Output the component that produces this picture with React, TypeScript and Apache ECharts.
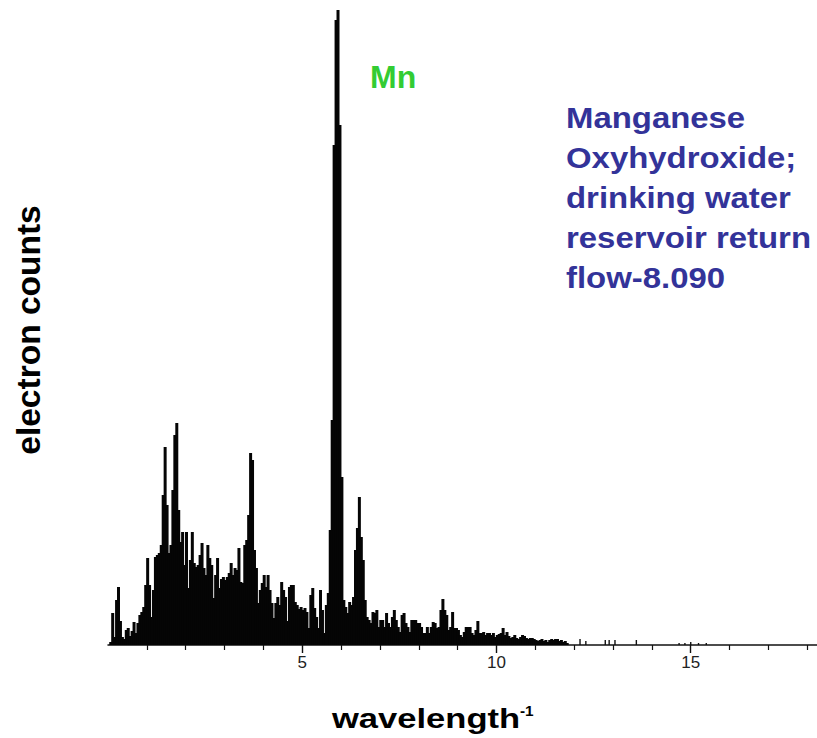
import React, { useEffect, useRef } from "react";
import * as echarts from "echarts";

// Spectrum channels, 0.05 per channel starting at 0
const CHANNEL_WIDTH = 0.05;
const counts: number[] = [
  // 0.00 - 0.95
  0, 3, 32, 8, 45, 58, 24, 8, 6, 15, 17, 9, 14, 23, 12, 22, 30, 33, 38, 60,
  // 1.00 - 1.95
  87, 60, 28, 55, 88, 90, 92, 100, 150, 198, 140, 92, 100, 155, 210, 222, 135, 103, 113, 80,
  // 2.00 - 2.95
  113, 57, 85, 113, 82, 78, 80, 90, 102, 77, 70, 100, 87, 80, 47, 70, 87, 57, 66, 68,
  // 3.00 - 3.95
  65, 68, 72, 82, 70, 77, 75, 97, 63, 62, 100, 105, 130, 192, 185, 95, 77, 42, 55, 62,
  // 4.00 - 4.95
  70, 58, 70, 55, 42, 27, 42, 48, 40, 63, 55, 48, 24, 58, 60, 60, 43, 40, 36, 38,
  // 5.00 - 5.95
  35, 37, 33, 17, 50, 57, 37, 28, 17, 55, 35, 12, 40, 52, 115, 225, 500, 625, 635, 520,
  // 6.00 - 6.95
  168, 45, 38, 32, 43, 40, 48, 95, 117, 148, 108, 85, 45, 28, 25, 22, 33, 32, 35, 18,
  // 7.00 - 7.95
  25, 25, 18, 32, 22, 18, 28, 35, 25, 18, 13, 30, 32, 22, 18, 13, 25, 25, 25, 22,
  // 8.00 - 8.95
  22, 18, 12, 12, 18, 12, 18, 23, 22, 17, 18, 35, 46, 35, 30, 15, 18, 33, 17, 17,
  // 9.00 - 9.95
  15, 10, 8, 13, 18, 18, 18, 12, 10, 15, 24, 12, 12, 13, 10, 12, 12, 10, 12, 8,
  // 10.00 - 10.95
  10, 11, 12, 17, 10, 13, 9, 7, 8, 10, 7, 6, 8, 10, 9, 7, 6, 7, 7, 6,
  // 11.00 - 11.80
  5, 4, 5, 6, 4, 5, 3, 5, 6, 5, 6, 6, 4, 5, 3, 4, 2,
];

// Isolated counts in the high-energy tail: [position, count]
const tailCounts: [number, number][] = [
  [12.15, 6], [12.3, 4], [12.8, 5], [12.9, 5], [13.05, 5], [13.6, 5],
  [14.7, 2], [14.85, 2], [15.0, 3], [15.2, 2], [15.4, 2],
];

const X_MIN = 0;
const X_MAX = 18.25;
const majorTicks = [5, 10, 15];
const minorTicks = [1, 2, 3, 4, 6, 7, 8, 9, 11, 12, 13, 14, 16, 17, 18];

const elementLabel = "Mn";
const sampleLines = [
  "Manganese",
  "Oxyhydroxide;",
  "drinking water",
  "reservoir return",
  "flow-8.090",
];
const xTitle = "wavelength";
const xTitleSup = "-1";
const yTitle = "electron counts";

const FONT = '"Liberation Sans", Arial, Helvetica, sans-serif';

export default function App() {
  const ref = useRef<HTMLDivElement>(null);

  useEffect(() => {
    if (!ref.current) return;
    const chart = echarts.init(ref.current, undefined, { renderer: "svg" });

    const spectrum = counts.map((c, i) => [
      Math.round(i * CHANNEL_WIDTH * 100) / 100,
      c,
    ]);

    chart.setOption({
      animation: false,
      backgroundColor: "#ffffff",
      grid: { left: 108, right: 0, top: 5, bottom: 93, containLabel: false },
      xAxis: [
        {
          type: "value",
          min: X_MIN,
          max: X_MAX,
          position: "bottom",
          axisLine: { show: true, lineStyle: { color: "#111", width: 1.5 } },
          axisTick: {
            show: true,
            customValues: minorTicks,
            length: 5,
            lineStyle: { color: "#111", width: 1.2 },
          },
          axisLabel: { show: false },
          splitLine: { show: false },
        },
        {
          type: "value",
          min: X_MIN,
          max: X_MAX,
          position: "bottom",
          offset: 0,
          axisLine: { show: false },
          axisTick: {
            show: true,
            customValues: majorTicks,
            length: 8,
            lineStyle: { color: "#111", width: 1.4 },
          },
          axisLabel: {
            show: true,
            customValues: majorTicks,
            margin: 9,
            color: "#222",
            fontSize: 17,
            fontFamily: FONT,
          },
          splitLine: { show: false },
        },
      ],
      yAxis: {
        type: "value",
        min: 0,
        max: 640,
        show: false,
      },
      series: [
        {
          type: "bar",
          xAxisIndex: 0,
          data: spectrum,
          barWidth: 3,
          itemStyle: { color: "#050505" },
          silent: true,
        },
        {
          type: "bar",
          xAxisIndex: 0,
          data: tailCounts,
          barWidth: 1.4,
          barGap: "-100%",
          itemStyle: { color: "#111" },
          silent: true,
        },
      ],
      graphic: [
        {
          type: "text",
          x: 370,
          y: 77,
          style: {
            text: elementLabel,
            fill: "#33cc33",
            font: `bold 32px ${FONT}`,
            align: "left",
            textAlign: "left",
            verticalAlign: "middle",
            textVerticalAlign: "middle",
          },
        },
        {
          type: "text",
          x: 566,
          y: 98,
          scaleX: 1.135,
          style: {
            text: sampleLines.join("\n"),
            fill: "#333399",
            font: `bold 29px ${FONT}`,
            lineHeight: 40,
            align: "left",
            textAlign: "left",
            verticalAlign: "top",
            textVerticalAlign: "top",
          },
        },
        {
          type: "text",
          x: 332,
          y: 719,
          scaleX: 1.28,
          style: {
            text: xTitle,
            fill: "#000",
            font: `bold 27px ${FONT}`,
            align: "left",
            textAlign: "left",
            verticalAlign: "middle",
            textVerticalAlign: "middle",
          },
        },
        {
          type: "text",
          x: 520,
          y: 711,
          scaleX: 1.1,
          style: {
            text: xTitleSup,
            fill: "#000",
            font: `bold 14px ${FONT}`,
            align: "left",
            textAlign: "left",
            verticalAlign: "middle",
            textVerticalAlign: "middle",
          },
        },
        {
          type: "text",
          x: 28,
          y: 330,
          rotation: Math.PI / 2,
          style: {
            text: yTitle,
            fill: "#000",
            font: `bold 33.5px ${FONT}`,
            align: "center",
            textAlign: "center",
            verticalAlign: "middle",
            textVerticalAlign: "middle",
          },
        },
      ],
    });

    return () => chart.dispose();
  }, []);

  return (
    <div
      ref={ref}
      style={{ position: "fixed", left: 0, top: 0, width: 817, height: 738 }}
    />
  );
}
